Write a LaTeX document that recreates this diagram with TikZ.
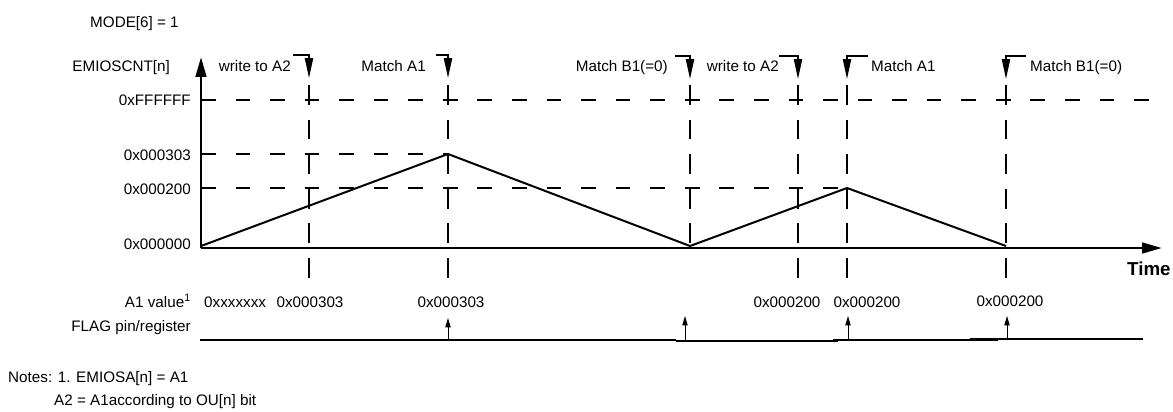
\documentclass[tikz,border=0pt]{standalone}
\usepackage{fontspec}
\setmainfont{Liberation Sans}
\usetikzlibrary{arrows.meta, positioning}

\begin{document}
\begin{tikzpicture}[
    x=0.03cm, y=-0.03cm,
    every node/.style={font=\fontsize{13}{15}\selectfont, inner sep=0pt},
    lvl/.style={anchor=base east},
    txt/.style={anchor=base west},
    val/.style={anchor=base},
    axis/.style={line width=2.5pt, -{Triangle[length=17pt, width=9pt]}},
    wave/.style={line width=1.7pt},
    hdash/.style={line width=1.6pt, dash pattern=on 12.5pt off 17pt},
    vdash/.style={line width=1.6pt, dash pattern=on 17pt off 12.5pt},
    evt/.style={line width=1.2pt, -{Triangle[length=17pt, width=7pt]}},
    flag/.style={line width=1.6pt},
    hit/.style={line width=0.8pt, -{Triangle[length=8pt, width=4.5pt]}}
]
\useasboundingbox (0,0) rectangle (1173,411);
% axes
\coordinate (O) at (201,248);
\coordinate (ytop) at (201,57);
\coordinate (xend) at (1162,248);
\draw[axis] (O) -- (ytop);
\draw[axis] (O) -- (xend);
\node[txt] (mode) at (90,27) {MODE[6] = 1};
\node[lvl] (cnt) at (170,71) {EMIOSCNT[n]};
\node[txt, font=\fontsize{16}{18}\selectfont\bfseries] (time) at (1127,275) {Time};
% counter levels
\node[lvl] (lff) at (191,105) {0xFFFFFF};
\node[lvl] (l303) at (191,160) {0x000303};
\node[lvl] (l200) at (191,194) {0x000200};
\node[lvl] (l000) at (191,249) {0x000000};
% up/down counter
\coordinate (s0) at (201,246);
\coordinate (p1) at (448,154);
\coordinate (v1) at (690,246);
\coordinate (p2) at (847,188);
\coordinate (v2) at (1006,246);
\draw[hdash] (O |- 0,100) -- (xend |- 0,100);
\draw[hdash] (O |- p1) -- (p1);
\draw[hdash] (O |- p2) -- (p2);
\draw[wave] (s0) -- (p1) -- (v1) -- (p2) -- (v2);
% events
\node[lvl] (wa1) at (291,71) {write to A2};
\node[lvl] (ma1) at (426,71) {Match A1};
\node[lvl] (mb1) at (668,71) {Match B1(=0)};
\node[lvl] (wa2) at (779,71) {write to A2};
\node[txt] (ma2) at (871,71) {Match A1};
\node[txt] (mb2) at (1030,71) {Match B1(=0)};
\coordinate (e1) at (309,55);
\coordinate (e2) at (448,55);
\coordinate (e3) at (690,56);
\coordinate (e4) at (798,56);
\coordinate (e5) at (847,56);
\coordinate (e6) at (1006,56);
\draw[evt] (wa1.east |- e1) ++(2,0) -- (e1) -- ++(0,23);
\draw[evt] (ma1.east |- e2) ++(10,0) -- (e2) -- ++(0,23);
\draw[evt] (mb1.east |- e3) ++(7,0) -- (e3) -- ++(0,23);
\draw[evt] (wa2.east |- e4) -- (e4) -- ++(0,23);
\draw[evt] (ma2.west |- e5) ++(-3,0) -- (e5) -- ++(0,23);
\draw[evt] (mb2.west |- e6) ++(-4,0) -- (e6) -- ++(0,23);
% event lines
\coordinate (vt) at (0,85);
\coordinate (vb) at (0,282);
\draw[vdash] (e1 |- vt) -- (e1 |- vb);
\draw[vdash] (e2 |- vt) -- (e2 |- vb);
\draw[vdash] (e3 |- vt) -- (v1);
\draw[vdash] (e4 |- vt) -- (e4 |- vb);
\draw[vdash] (e5 |- vt) -- (e5 |- vb);
\draw[vdash] (e6 |- vt) -- (e6 |- vb);
% A1 register values
\node[lvl] (a1v) at (191,307) {A1 value\textsuperscript{1}};
\node[txt] (x0) at (204,307) {0xxxxxxx};
\node[val] (x1) at (310,307) {0x000303};
\node[val] (x2) at (451,307) {0x000303};
\node[val] (x3) at (787,307) {0x000200};
\node[val] (x4) at (867,307) {0x000200};
\node[val] (x5) at (1010,306) {0x000200};
% flag
\node[lvl] (flg) at (191,331) {FLAG pin/register};
\draw[flag] (200,340) -- (676,340);
\draw[flag] (676,341) -- (838,341);
\draw[flag] (833,340) -- (998,340);
\draw[flag] (970,339) -- (1143,339);
\coordinate (f1) at (448,340);
\coordinate (f2) at (685,340);
\coordinate (f3) at (848,340);
\coordinate (f4) at (1007,339);
\draw[hit] (f1) -- ++(0,-22);
\draw[hit] (f2) -- ++(0,-24);
\draw[hit] (f3) -- ++(0,-24);
\draw[hit] (f4) -- ++(0,-23);
% notes
\node[txt] (note1) at (8,382) {Notes: 1. EMIOSA[n] = A1};
\node[txt] (note2) at (54,405) {A2 = A1according to OU[n] bit};
\end{tikzpicture}
\end{document}
